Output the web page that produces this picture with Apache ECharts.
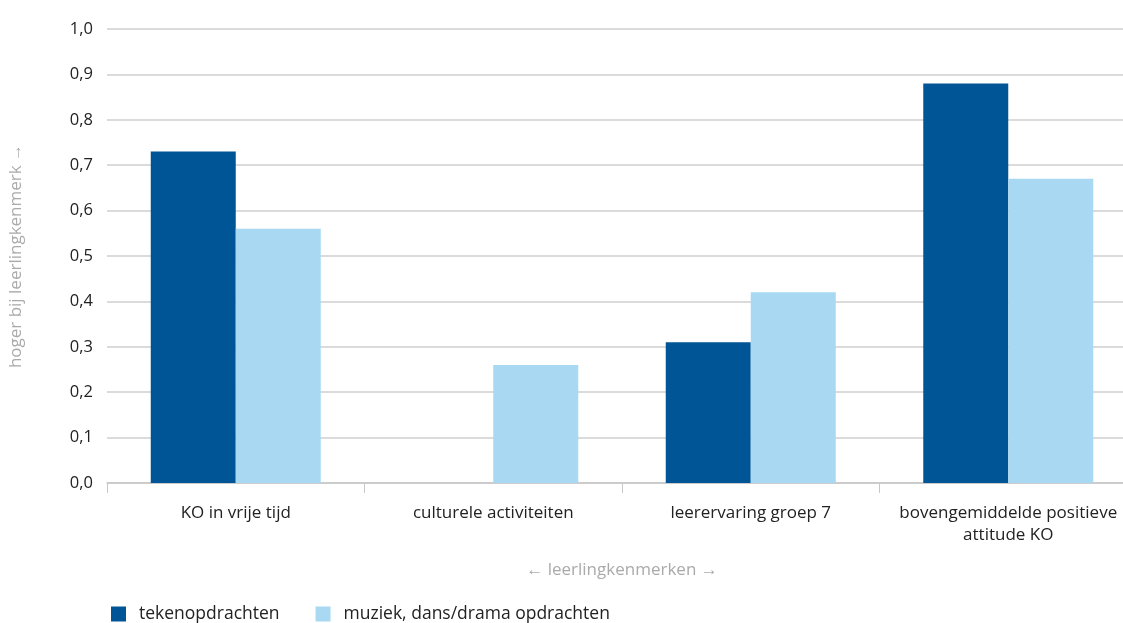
<!DOCTYPE html>
<html><head><meta charset="utf-8">
<script src="https://cdn.jsdelivr.net/npm/echarts@6/dist/echarts.min.js"></script>
<style>html,body{margin:0;padding:0;background:#fff}#c{width:1123px;height:623px}</style>
</head><body><div id="c"></div>
<script>
const categories = ['KO in vrije tijd', 'culturele activiteiten', 'leerervaring groep 7', 'bovengemiddelde positieve\nattitude KO'];
const tekenopdrachten = [0.73, 0, 0.31, 0.88];
const muziekDansDrama = [0.56, 0.26, 0.42, 0.67];
const seriesNames = ['tekenopdrachten', 'muziek, dans/drama opdrachten'];
const yTicks = [0, 0.1, 0.2, 0.3, 0.4, 0.5, 0.6, 0.7, 0.8, 0.9, 1.0];

const font = '"Open Sans", sans-serif';
const chart = echarts.init(document.getElementById('c'), null, {renderer: 'canvas'});
chart.setOption({
  animation: false,
  textStyle: {fontFamily: font},
  grid: {left: 107, right: -14, top: 29, bottom: 140, containLabel: false, outerBoundsMode: 'none'},
  legend: {
    left: 106, bottom: -5, itemWidth: 15, itemHeight: 15, itemGap: 36,
    icon: 'rect',
    textStyle: {fontSize: 17.5, color: '#222', fontFamily: font, padding: [0, 0, 0, 8]},
    data: seriesNames
  },
  xAxis: {
    type: 'category', data: categories,
    name: '← leerlingkenmerken →', nameLocation: 'middle', nameGap: 79,
    nameTextStyle: {fontSize: 17, color: '#aaa', fontFamily: font},
    axisLine: {lineStyle: {color: '#c8c8c8', width: 1.5}},
    axisTick: {show: true, length: 10, interval: 0, lineStyle: {color: '#c8c8c8'}},
    axisLabel: {fontSize: 17, color: '#222', margin: 19, lineHeight: 22, interval: 0, fontFamily: font}
  },
  yAxis: {
    type: 'value', min: 0, max: 1, interval: 0.1,
    name: 'hoger bij leerlingkenmerk →', nameLocation: 'middle', nameGap: 82, nameRotate: 90,
    nameTextStyle: {fontSize: 17, color: '#aaa', fontFamily: font},
    axisLine: {show: false}, axisTick: {show: false},
    splitLine: {lineStyle: {color: '#cfcfcf', width: 1.5}},
    axisLabel: {fontSize: 16.5, color: '#222', margin: 14, fontFamily: font,
      formatter: v => { const t = yTicks.find(x => Math.abs(x - v) < 1e-9); return (t !== undefined ? t : v).toFixed(1).replace('.', ','); }}
  },
  series: [
    {name: seriesNames[0], type: 'bar', data: tekenopdrachten, barWidth: 85, barGap: '0%', itemStyle: {color: '#005596'}},
    {name: seriesNames[1], type: 'bar', data: muziekDansDrama, barWidth: 85, barGap: '0%', itemStyle: {color: '#a8d8f2'}}
  ]
});
</script></body></html>
